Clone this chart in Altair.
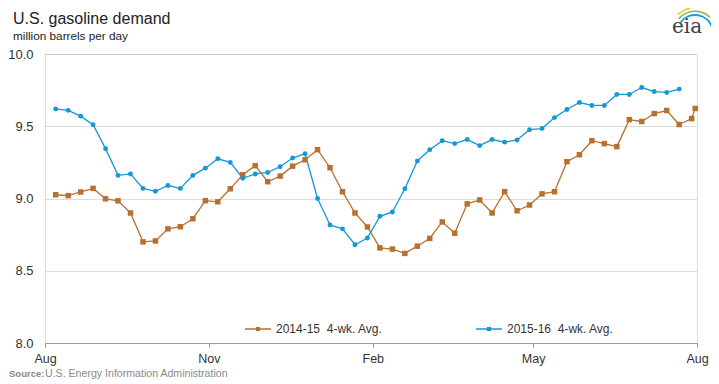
import altair as alt
import pandas as pd
import math

ORANGE = "#B8702E"
BLUE = "#1598D8"
S1 = "2014-15\u00a0 4-wk. Avg."
S2 = "2015-16\u00a0 4-wk. Avg."

# week-ending dates mapped onto a common Aug-Aug axis
dates_1516 = [d.strftime("%Y-%m-%d") for d in pd.date_range("2015-08-07", periods=51, freq="7D")]
dates_1415 = [d.strftime("%Y-%m-%d") for d in pd.date_range("2015-08-07", periods=52, freq="7D")] + ["2016-07-31"]

vals_1415 = [9.026, 9.02, 9.045, 9.07, 8.998, 8.984, 8.90, 8.70, 8.706, 8.79,
             8.805, 8.86, 8.985, 8.977, 9.067, 9.164, 9.227, 9.116, 9.155, 9.224,
             9.268, 9.338, 9.213, 9.047, 8.90, 8.803, 8.658, 8.65, 8.62, 8.67,
             8.724, 8.838, 8.76, 8.963, 8.99, 8.90, 9.047, 8.915, 8.955, 9.032,
             9.047, 9.255, 9.303, 9.40, 9.38, 9.359, 9.546, 9.533, 9.588, 9.609,
             9.512, 9.553, 9.623]

vals_1516 = [9.62, 9.61, 9.57, 9.51, 9.345, 9.16, 9.17, 9.07, 9.05, 9.09,
             9.07, 9.16, 9.21, 9.275, 9.25, 9.14, 9.17, 9.18, 9.22, 9.28,
             9.31, 9.00, 8.817, 8.79, 8.68, 8.727, 8.877, 8.907, 9.067, 9.26,
             9.338, 9.40, 9.38, 9.408, 9.366, 9.408, 9.39, 9.405, 9.476, 9.484,
             9.56, 9.616, 9.664, 9.644, 9.644, 9.72, 9.72, 9.768, 9.74, 9.734,
             9.757]

y_ticks = [8.0, 8.5, 9.0, 9.5, 10.0]

TITLE = "U.S. gasoline demand"
SUBTITLE = "million barrels per day"
SOURCE_LABEL = "Source:"
SOURCE_TEXT = "U.S. Energy Information Administration"

df = pd.concat([
    pd.DataFrame({"date": dates_1415, "value": vals_1415, "series": S1}),
    pd.DataFrame({"date": dates_1516, "value": vals_1516, "series": S2}),
])

W, H = 652, 289
FONT = "Liberation Sans"

x_enc = alt.X(
    "date:T",
    scale=alt.Scale(domain=[alt.DateTime(year=2015, month=8, date=1),
                            alt.DateTime(year=2016, month=8, date=1)]),
    axis=alt.Axis(
        title=None, format="%b", grid=False, labelFlush=False,
        values=[alt.DateTime(year=2015, month=8, date=1),
                alt.DateTime(year=2015, month=11, date=1),
                alt.DateTime(year=2016, month=2, date=1),
                alt.DateTime(year=2016, month=5, date=1),
                alt.DateTime(year=2016, month=8, date=1)],
        tickSize=4, tickColor="#999999", domainColor="#999999",
        labelFontSize=12.5, labelColor="#333333", labelPadding=5, labelFont=FONT,
    ),
)
y_enc = alt.Y(
    "value:Q",
    scale=alt.Scale(domain=[8, 10], nice=False, zero=False),
    axis=alt.Axis(
        title=None, values=y_ticks, format=".1f", ticks=False, domain=False,
        grid=True, gridColor="#BBBBBB", gridDash=[1, 1], gridWidth=1,
        labelFontSize=13, labelColor="#333333", labelPadding=12, labelFont=FONT,
    ),
)

base = alt.Chart(df)

legend = alt.Legend(
    title=None, orient="none", legendX=199, legendY=261, direction="horizontal",
    columns=2, columnPadding=90, labelFontSize=12, labelColor="#333333", labelFont=FONT,
    symbolType="M-1,0H1M-0.1,-0.1H0.1V0.1H-0.1ZM-0.05,-0.05H0.05V0.05H-0.05Z",
    symbolSize=676, symbolStrokeWidth=1.5, labelOffset=4,
)

lines = base.mark_line(strokeWidth=1.3).encode(
    x=x_enc, y=y_enc,
    color=alt.Color("series:N", scale=alt.Scale(domain=[S1, S2], range=[ORANGE, BLUE]), legend=legend),
)
squares = base.transform_filter(alt.datum.series == S1).mark_square(
    size=30, color=ORANGE, opacity=1).encode(x=x_enc, y=y_enc)
circles = base.transform_filter(alt.datum.series == S2).mark_circle(
    size=24, color=BLUE, opacity=1).encode(x=x_enc, y=y_enc)


def label(text, x, y, size, color, font=FONT, weight="normal"):
    return alt.Chart(pd.DataFrame({"t": [text]})).mark_text(
        align="left", baseline="alphabetic", fontSize=size, fontWeight=weight,
        color=color, font=font).encode(x=alt.value(x), y=alt.value(y), text="t:N")


title = label(TITLE, -32, -30, 16, "#222222")
subtitle = label(SUBTITLE, -32, -14.5, 11.75, "#222222")
src_bold = label(SOURCE_LABEL, -36, 323, 9.5, "#8A8A8A", weight="bold")
src_norm = label(SOURCE_TEXT, 0, 323, 10.6, "#8A8A8A")
logo_text = label("eia", 627, -21, 20, "#404040", font="DejaVu Serif")

arc_df = pd.DataFrame({"k": ["a"]})
TAU = 2 * math.pi


def arc(r1, r2, t1, t2, col):
    return alt.Chart(arc_df).mark_arc(
        radius=r1, radius2=r2, theta=TAU + t1, theta2=TAU + t2, color=col).encode(
        x=alt.value(650), y=alt.value(-21))


arcs = [
    arc(17, 19, -0.95, 1.3, "#1AA0DB"),
    arc(21, 22.5, -0.85, 0.75, "#7AB648"),
    arc(24.5, 26, -0.75, -0.2, "#F2C500"),
]

chart = alt.layer(lines, squares, circles, title, subtitle, src_bold, src_norm,
                  logo_text, *arcs).properties(
    width=W, height=H,
    autosize=alt.AutoSizeParams(type="none"),
    padding={"left": 37, "top": 46, "right": 14, "bottom": 40},
).configure_view(stroke=None).configure(font=FONT)

chart.save("out.html", embed_options={"renderer": "svg", "actions": False})
